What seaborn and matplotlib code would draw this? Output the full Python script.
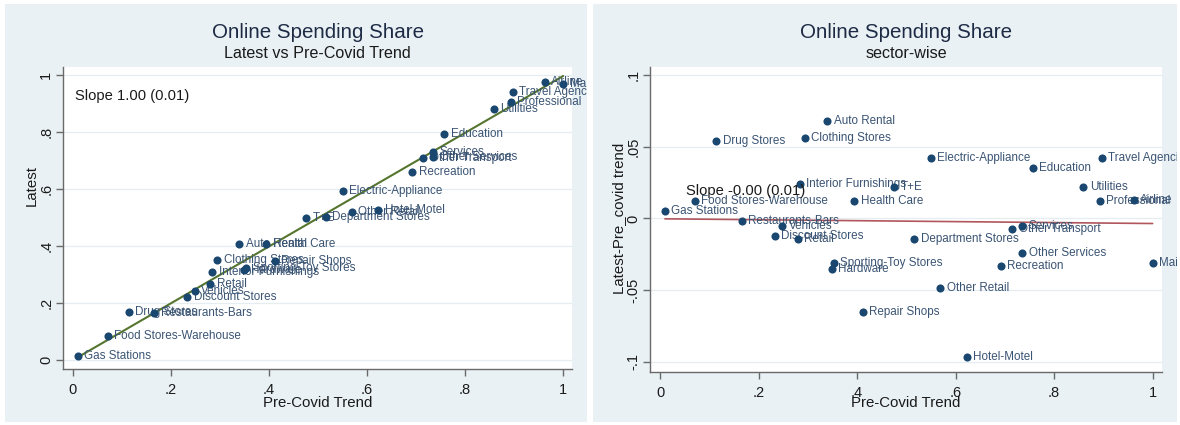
import matplotlib
matplotlib.use("Agg")
import matplotlib.pyplot as plt
import numpy as np
import pandas as pd
import seaborn as sns
from matplotlib.patches import Rectangle
from matplotlib.transforms import Bbox, TransformedBbox, offset_copy

# Sector-level online spending shares
sectors = [
    "Gas Stations", "Food Stores-Warehouse", "Drug Stores", "Restaurants-Bars",
    "Discount Stores", "Vehicles", "Retail", "Interior Furnishings",
    "Clothing Stores", "Auto Rental", "Health Care", "Sporting-Toy Stores",
    "Hardware", "Repair Shops", "T+E", "Department Stores",
    "Electric-Appliance", "Other Retail", "Hotel-Motel", "Recreation",
    "Other Transport", "Services", "Other Services", "Education",
    "Utilities", "Professional", "Travel Agencies", "Airline", "Mail Order",
]
pre_covid = [
    0.010, 0.071, 0.114, 0.166,
    0.233, 0.248, 0.280, 0.284,
    0.294, 0.339, 0.394, 0.353,
    0.349, 0.412, 0.475, 0.516,
    0.550, 0.569, 0.623, 0.692,
    0.715, 0.735, 0.735, 0.757,
    0.859, 0.893, 0.897, 0.962, 1.000,
]
latest = [
    0.015, 0.0835, 0.168, 0.164,
    0.221, 0.2425, 0.266, 0.308,
    0.350, 0.407, 0.4065, 0.322,
    0.314, 0.347, 0.497, 0.502,
    0.592, 0.5205, 0.5265, 0.659,
    0.708, 0.7295, 0.711, 0.792,
    0.881, 0.9055, 0.939, 0.975, 0.969,
]

# Estimated gap-vs-trend fit (intercept, slope) reported with the charts
gap_fit_intercept = -0.0002
gap_fit_slope = -0.0033

x_ticks = [0, 0.2, 0.4, 0.6, 0.8, 1.0]
x_tick_labels = ["0", ".2", ".4", ".6", ".8", "1"]
left_y_ticks = [0, 0.2, 0.4, 0.6, 0.8, 1.0]
left_y_tick_labels = ["0", ".2", ".4", ".6", ".8", "1"]
right_y_ticks = [-0.1, -0.05, 0, 0.05, 0.1]
right_y_tick_labels = ["-.1", "-.05", "0", ".05", ".1"]

df = pd.DataFrame({"sector": sectors, "pre_covid": pre_covid, "latest": latest})
df["gap"] = df["latest"] - df["pre_covid"]

x_fit = np.array([df["pre_covid"].min(), df["pre_covid"].max()])
fit = pd.DataFrame({"pre_covid": x_fit})
fit["gap"] = gap_fit_intercept + gap_fit_slope * fit["pre_covid"]
fit["latest"] = fit["pre_covid"] + fit["gap"]

sns.set_theme(style="white")
plt.rcParams["font.family"] = ["Liberation Sans", "DejaVu Sans"]

W, H = 1180, 425
fig = plt.figure(figsize=(W / 100, H / 100), dpi=100)
fig.patch.set_facecolor("white")

BG = "#e9f1f4"
NAVY = "#1a476f"
LABEL_C = "#3a5473"
AXIS_C = "#6a6a6a"
GRID_C = "#e5edf0"


def rect(x0, y0, x1, y1):
    return [x0 / W, 1 - y1 / H, (x1 - x0) / W, (y1 - y0) / H]


def panel(px, ax_px, xlim, ylim, ycol, yticks, yticklabels, fit_color, fit_lw,
          subtitle, ytitle, slope_text, slope_xy, ytitle_y):
    bounds = rect(*px)
    fig.patches.append(Rectangle((bounds[0], bounds[1]), bounds[2], bounds[3],
                                 transform=fig.transFigure, facecolor=BG,
                                 edgecolor="none", zorder=-5))
    clip = TransformedBbox(Bbox.from_bounds(*bounds), fig.transFigure)

    ax = fig.add_axes(rect(*ax_px))
    ax.set_zorder(1)
    ax.set_facecolor("white")

    sns.lineplot(data=fit, x="pre_covid", y=ycol, ax=ax, color=fit_color,
                 lw=fit_lw, zorder=3)
    sns.scatterplot(data=df, x="pre_covid", y=ycol, ax=ax, color=NAVY, s=34,
                    linewidth=0, zorder=5, legend=False)
    ax.set_xlim(*xlim)
    ax.set_ylim(*ylim)

    tr = offset_copy(ax.transData, fig=fig, x=6.5, y=0, units="dots")
    for _, r in df.iterrows():
        t = ax.text(r["pre_covid"], r[ycol], r["sector"], transform=tr,
                    ha="left", va="center", fontsize=8.4, color=LABEL_C,
                    zorder=4)
        t.set_clip_box(clip)
        t.set_clip_on(True)

    ax.text(slope_xy[0], slope_xy[1], slope_text, ha="left", va="center",
            fontsize=10.6, color="#1a1a1a", zorder=6)

    ax.set_xticks(x_ticks)
    ax.set_xticklabels(x_tick_labels)
    ax.set_yticks(yticks)
    ax.set_yticklabels(yticklabels, rotation=90, va="center")
    ax.set_xlabel("")
    ax.set_ylabel("")
    ax.grid(False)
    for y in yticks:
        ax.axhline(y, color=GRID_C, lw=0.9, zorder=1)
    for s in ["top", "right"]:
        ax.spines[s].set_visible(False)
    for s in ["left", "bottom"]:
        ax.spines[s].set_color(AXIS_C)
        ax.spines[s].set_linewidth(1.0)
    ax.tick_params(axis="both", which="major", direction="out", length=5,
                   width=1, color=AXIS_C, labelsize=10.5, labelcolor="#1a1a1a",
                   left=True, bottom=True)
    ax.tick_params(axis="x", pad=5)
    ax.tick_params(axis="y", pad=2)

    pcx = (ax_px[0] + ax_px[2]) / 2
    fig.text(pcx / W, 1 - 32 / H, "Online Spending Share", ha="center",
             va="center", fontsize=14.8, color="#1e2b45")
    fig.text(pcx / W, 1 - 53 / H, subtitle, ha="center", va="center",
             fontsize=11.6, color="#1a1a1a")
    fig.text(pcx / W, 1 - 403 / H, "Pre-Covid Trend", ha="center",
             va="center", fontsize=10.8, color="#1a1a1a")
    fig.text(ytitle[1] / W, 1 - ytitle_y / H, ytitle[0], ha="center",
             va="center", rotation=90, fontsize=10.8, color="#1a1a1a")
    return ax


panel((5, 4, 587, 422), (63, 67, 572, 369), (-0.0204, 1.018),
      (-0.0316, 1.028), "latest", left_y_ticks, left_y_tick_labels,
      "#55752f", 1.5, "Latest vs Pre-Covid Trend", ("Latest", 32),
      "Slope 1.00 (0.01)", (0.004, 0.926), 186)

panel((593, 4, 1177, 422), (650, 67, 1162, 372), (-0.0203, 1.019),
      (-0.107, 0.1056), "gap", right_y_ticks, right_y_tick_labels,
      "#b0565c", 1.2, "sector-wise", ("Latest-Pre_covid trend", 619),
      "Slope -0.00 (0.01)", (0.053, 0.0194), 218)

fig.savefig("out.png", dpi=100, facecolor="white")
